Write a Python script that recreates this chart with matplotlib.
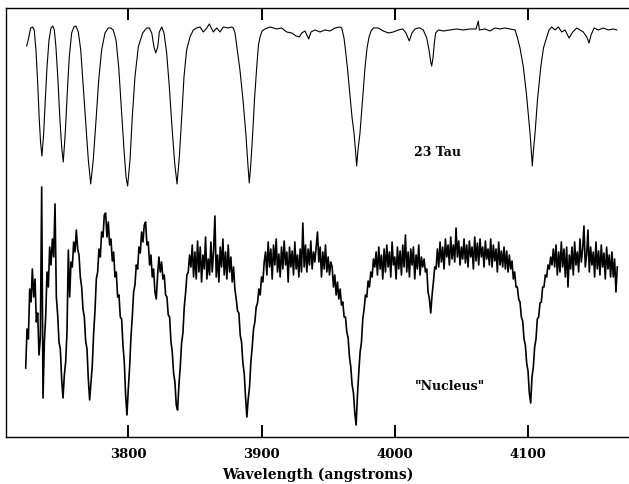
#!/usr/bin/env python3
"""Plot 23 Tau template spectrum against the "Nucleus" spectrum."""

import matplotlib

matplotlib.use("Agg")
import matplotlib.pyplot as plt

# 23 Tau (smooth template), wavelength in angstroms, flux in plot units
tau_wave = [
    3723.7, 3724.9, 3726.7, 3728.2, 3729.4, 3730.7, 3732.0, 3733.2, 3734.2, 3735.2,
    3736.5, 3737.7, 3739.0, 3740.5, 3742.0, 3743.3, 3744.5, 3745.7, 3747.2, 3748.7,
    3750.0, 3751.2, 3752.7, 3754.2, 3755.7, 3757.5, 3759.2, 3760.7, 3762.5, 3764.3,
    3766.2, 3768.2, 3770.0, 3771.8, 3773.7, 3775.8, 3777.8, 3780.0, 3782.5, 3785.0,
    3786.8, 3788.7, 3790.8, 3792.8, 3794.7, 3796.8, 3798.3, 3799.5, 3801.3, 3803.0,
    3805.0, 3807.5, 3810.8, 3813.8, 3815.8, 3817.6, 3819.3, 3820.6, 3822.1, 3823.3,
    3825.1, 3826.8, 3828.8, 3830.8, 3832.8, 3834.8, 3836.6, 3838.3, 3840.1, 3841.8,
    3843.8, 3846.3, 3848.8, 3851.3, 3853.8, 3856.3, 3858.9, 3860.8, 3863.8, 3866.4,
    3868.8, 3871.3, 3875.1, 3877.6, 3878.8, 3880.1, 3880.8, 3882.3, 3883.8, 3886.1,
    3888.3, 3889.8, 3890.8, 3891.9, 3893.4, 3894.7, 3896.4, 3897.7, 3898.9, 3900.4,
    3902.6, 3906.4, 3911.4, 3915.1, 3918.9, 3922.7, 3925.9, 3928.4, 3930.2, 3932.6,
    3935.4, 3937.1, 3940.1, 3943.9, 3947.6, 3951.4, 3955.2, 3958.9, 3960.2, 3961.9,
    3963.0, 3964.4, 3966.0, 3967.9, 3969.4, 3970.5, 3971.4, 3972.4, 3973.9, 3975.8,
    3977.7, 3979.2, 3980.7, 3982.2, 3983.9, 3987.7, 3991.4, 3995.2, 3998.9, 4002.7,
    4006.0, 4008.4, 4010.9, 4012.9, 4015.2, 4017.7, 4018.9, 4021.4, 4024.0, 4025.7,
    4027.0, 4027.7, 4028.7, 4029.7, 4030.7, 4032.7, 4036.4, 4041.5, 4046.5, 4051.5,
    4056.5, 4061.0, 4062.7, 4063.5, 4067.7, 4071.5, 4075.2, 4079.0, 4082.7, 4086.5,
    4090.3, 4092.1, 4094.0, 4096.5, 4098.9, 4101.5, 4102.7, 4103.2, 4104.1, 4105.3,
    4107.1, 4109.6, 4111.6, 4114.1, 4115.8, 4117.8, 4120.3, 4122.8, 4125.3, 4127.8,
    4130.8, 4133.6, 4136.6, 4139.0, 4141.5, 4144.1, 4145.8, 4147.3, 4149.6, 4152.8,
    4156.5, 4160.3, 4164.1, 4166.6,
]
tau_flux = [
    391, 397, 409, 410, 407, 387, 354, 317, 294, 281,
    304, 337, 370, 397, 409, 411, 407, 390, 357, 317,
    290, 275, 304, 344, 380, 404, 410, 411, 405, 387,
    350, 310, 277, 253, 277, 317, 357, 387, 404, 409,
    409, 407, 397, 370, 330, 287, 260, 251, 277, 320,
    360, 390, 404, 409, 409, 404, 390, 384, 390, 405,
    410, 404, 384, 350, 310, 274, 253, 280, 320, 360,
    387, 400, 407, 409, 410, 405, 409, 413, 405, 409,
    405, 410, 409, 410, 409, 404, 397, 382, 367, 337,
    302, 272, 254, 272, 304, 337, 370, 392, 400, 406,
    408, 410, 408, 409, 405, 404, 401, 400, 404, 406,
    398, 405, 407, 405, 407, 406, 409, 410, 409, 399,
    387, 370, 347, 320, 304, 287, 271, 287, 304, 337,
    370, 389, 400, 406, 409, 409, 406, 404, 405, 407,
    408, 404, 396, 404, 408, 409, 409, 407, 399, 387,
    375, 371, 379, 394, 404, 407, 406, 407, 408, 407,
    408, 408, 416, 407, 408, 406, 409, 408, 409, 408,
    407, 399, 389, 370, 342, 304, 282, 271, 287, 304,
    337, 370, 389, 400, 407, 410, 407, 410, 405, 407,
    399, 405, 409, 407, 405, 400, 394, 402, 409, 407,
    409, 407, 408, 407,
]

# "Nucleus" (noisy), one sample per angstrom from 3723 to 4167
nucleus_wave = [
    3723, 3724, 3725, 3726, 3727, 3728, 3729, 3730, 3731, 3732,
    3733, 3734, 3735, 3736, 3737, 3738, 3739, 3740, 3741, 3742,
    3743, 3744, 3745, 3746, 3747, 3748, 3749, 3750, 3751, 3752,
    3753, 3754, 3755, 3756, 3757, 3758, 3759, 3760, 3761, 3762,
    3763, 3764, 3765, 3766, 3767, 3768, 3769, 3770, 3771, 3772,
    3773, 3774, 3775, 3776, 3777, 3778, 3779, 3780, 3781, 3782,
    3783, 3784, 3785, 3786, 3787, 3788, 3789, 3790, 3791, 3792,
    3793, 3794, 3795, 3796, 3797, 3798, 3799, 3800, 3801, 3802,
    3803, 3804, 3805, 3806, 3807, 3808, 3809, 3810, 3811, 3812,
    3813, 3814, 3815, 3816, 3817, 3818, 3819, 3820, 3821, 3822,
    3823, 3824, 3825, 3826, 3827, 3828, 3829, 3830, 3831, 3832,
    3833, 3834, 3835, 3836, 3837, 3838, 3839, 3840, 3841, 3842,
    3843, 3844, 3845, 3846, 3847, 3848, 3849, 3850, 3851, 3852,
    3853, 3854, 3855, 3856, 3857, 3858, 3859, 3860, 3861, 3862,
    3863, 3864, 3865, 3866, 3867, 3868, 3869, 3870, 3871, 3872,
    3873, 3874, 3875, 3876, 3877, 3878, 3879, 3880, 3881, 3882,
    3883, 3884, 3885, 3886, 3887, 3888, 3889, 3890, 3891, 3892,
    3893, 3894, 3895, 3896, 3897, 3898, 3899, 3900, 3901, 3902,
    3903, 3904, 3905, 3906, 3907, 3908, 3909, 3910, 3911, 3912,
    3913, 3914, 3915, 3916, 3917, 3918, 3919, 3920, 3921, 3922,
    3923, 3924, 3925, 3926, 3927, 3928, 3929, 3930, 3931, 3932,
    3933, 3934, 3935, 3936, 3937, 3938, 3939, 3940, 3941, 3942,
    3943, 3944, 3945, 3946, 3947, 3948, 3949, 3950, 3951, 3952,
    3953, 3954, 3955, 3956, 3957, 3958, 3959, 3960, 3961, 3962,
    3963, 3964, 3965, 3966, 3967, 3968, 3969, 3970, 3971, 3972,
    3973, 3974, 3975, 3976, 3977, 3978, 3979, 3980, 3981, 3982,
    3983, 3984, 3985, 3986, 3987, 3988, 3989, 3990, 3991, 3992,
    3993, 3994, 3995, 3996, 3997, 3998, 3999, 4000, 4001, 4002,
    4003, 4004, 4005, 4006, 4007, 4008, 4009, 4010, 4011, 4012,
    4013, 4014, 4015, 4016, 4017, 4018, 4019, 4020, 4021, 4022,
    4023, 4024, 4025, 4026, 4027, 4028, 4029, 4030, 4031, 4032,
    4033, 4034, 4035, 4036, 4037, 4038, 4039, 4040, 4041, 4042,
    4043, 4044, 4045, 4046, 4047, 4048, 4049, 4050, 4051, 4052,
    4053, 4054, 4055, 4056, 4057, 4058, 4059, 4060, 4061, 4062,
    4063, 4064, 4065, 4066, 4067, 4068, 4069, 4070, 4071, 4072,
    4073, 4074, 4075, 4076, 4077, 4078, 4079, 4080, 4081, 4082,
    4083, 4084, 4085, 4086, 4087, 4088, 4089, 4090, 4091, 4092,
    4093, 4094, 4095, 4096, 4097, 4098, 4099, 4100, 4101, 4102,
    4103, 4104, 4105, 4106, 4107, 4108, 4109, 4110, 4111, 4112,
    4113, 4114, 4115, 4116, 4117, 4118, 4119, 4120, 4121, 4122,
    4123, 4124, 4125, 4126, 4127, 4128, 4129, 4130, 4131, 4132,
    4133, 4134, 4135, 4136, 4137, 4138, 4139, 4140, 4141, 4142,
    4143, 4144, 4145, 4146, 4147, 4148, 4149, 4150, 4151, 4152,
    4153, 4154, 4155, 4156, 4157, 4158, 4159, 4160, 4161, 4162,
    4163, 4164, 4165, 4166, 4167,
]
nucleus_flux = [
    69, 108, 98, 148, 135, 168, 140, 158, 115, 124,
    82, 100, 250, 39, 95, 120, 165, 150, 190, 172,
    198, 180, 233, 140, 122, 95, 88, 58, 39, 62,
    75, 105, 187, 140, 175, 170, 195, 185, 207, 188,
    182, 160, 150, 128, 120, 96, 88, 58, 37, 54,
    72, 104, 126, 158, 165, 188, 180, 205, 200, 222,
    224, 200, 215, 192, 198, 176, 185, 160, 165, 140,
    142, 120, 118, 92, 75, 42, 22, 48, 70, 100,
    120, 145, 152, 172, 168, 190, 184, 205, 195, 212,
    215, 192, 195, 172, 182, 160, 168, 145, 138, 162,
    180, 165, 175, 158, 162, 142, 140, 122, 120, 96,
    85, 64, 55, 32, 27, 52, 70, 94, 104, 130,
    144, 162, 165, 182, 170, 192, 160, 185, 158, 196,
    165, 190, 155, 182, 168, 200, 158, 178, 162, 195,
    165, 186, 221, 160, 182, 155, 190, 170, 198, 162,
    185, 158, 192, 165, 180, 155, 170, 148, 138, 126,
    124, 102, 95, 74, 64, 40, 20, 38, 50, 75,
    90, 108, 115, 130, 134, 148, 142, 160, 155, 175,
    185, 162, 195, 170, 188, 158, 192, 172, 198, 165,
    183, 160, 190, 168, 196, 172, 185, 155, 190, 170,
    186, 162, 195, 168, 182, 160, 188, 165, 214, 170,
    192, 165, 188, 172, 196, 168, 185, 175, 190, 205,
    175, 190, 160, 185, 168, 192, 165, 180, 162, 175,
    170, 150, 162, 142, 155, 138, 148, 132, 135, 120,
    120, 105, 99, 80, 70, 52, 44, 24, 12, 42,
    65, 85, 95, 118, 128, 142, 140, 156, 150, 165,
    160, 178, 170, 185, 162, 190, 168, 182, 158, 188,
    165, 192, 170, 185, 160, 195, 172, 180, 158, 190,
    168, 186, 162, 192, 170, 202, 165, 185, 160, 188,
    172, 190, 158, 182, 168, 192, 162, 180, 170, 178,
    165, 168, 145, 138, 124, 142, 155, 170, 168, 188,
    170, 195, 175, 190, 168, 198, 180, 192, 172, 200,
    178, 192, 175, 209, 180, 196, 172, 190, 178, 198,
    174, 192, 170, 196, 180, 190, 168, 200, 176, 194,
    172, 198, 180, 190, 170, 196, 178, 188, 172, 198,
    170, 192, 176, 188, 165, 195, 172, 186, 170, 190,
    168, 186, 165, 182, 168, 176, 158, 165, 150, 150,
    138, 135, 120, 116, 98, 92, 74, 66, 44, 34,
    60, 70, 90, 98, 118, 120, 134, 135, 150, 150,
    162, 160, 172, 168, 180, 172, 188, 170, 192, 162,
    185, 165, 195, 170, 188, 160, 190, 150, 182, 168,
    190, 162, 195, 172, 185, 165, 198, 175, 188, 211,
    170, 182, 207, 165, 190, 172, 185, 160, 195, 168,
    186, 162, 192, 170, 184, 158, 190, 168, 182, 160,
    185, 160, 178, 145, 170,
]

x_ticks = [3800, 3900, 4000, 4100]
labels = [("23 Tau", 4014.4, 284), ('"Nucleus"', 4015.0, 51)]


def main() -> int:
    font = {"family": "DejaVu Serif", "weight": "bold"}
    fig = plt.figure(figsize=(6.29, 4.84), dpi=100)
    ax = fig.add_axes([0.0095, 0.0977, 0.9905, 0.8852])

    ax.plot(tau_wave, tau_flux, color="black", linewidth=0.8)
    ax.plot(nucleus_wave, nucleus_flux, color="black", linewidth=1.2)

    for text, x, y in labels:
        ax.text(x, y, text, ha="left", va="center", fontsize=9, **font)

    ax.set_xlim(3708.2, 4175.8)
    ax.set_ylim(0.3, 428.7)
    ax.set_xticks(x_ticks)
    ax.set_xticklabels([str(t) for t in x_ticks], fontsize=9.5, **font)
    ax.set_yticks([])
    ax.tick_params(axis="x", direction="in", length=8.5, width=1.4, pad=8,
                   top=True, bottom=True)
    ax.spines["right"].set_visible(False)
    for side in ("left", "top", "bottom"):
        ax.spines[side].set_linewidth(1.0)
    ax.set_xlabel("Wavelength (angstroms)", fontsize=10, labelpad=5, **font)

    fig.savefig("out.png", dpi=100)
    return 0


if __name__ == "__main__":
    raise SystemExit(main())
